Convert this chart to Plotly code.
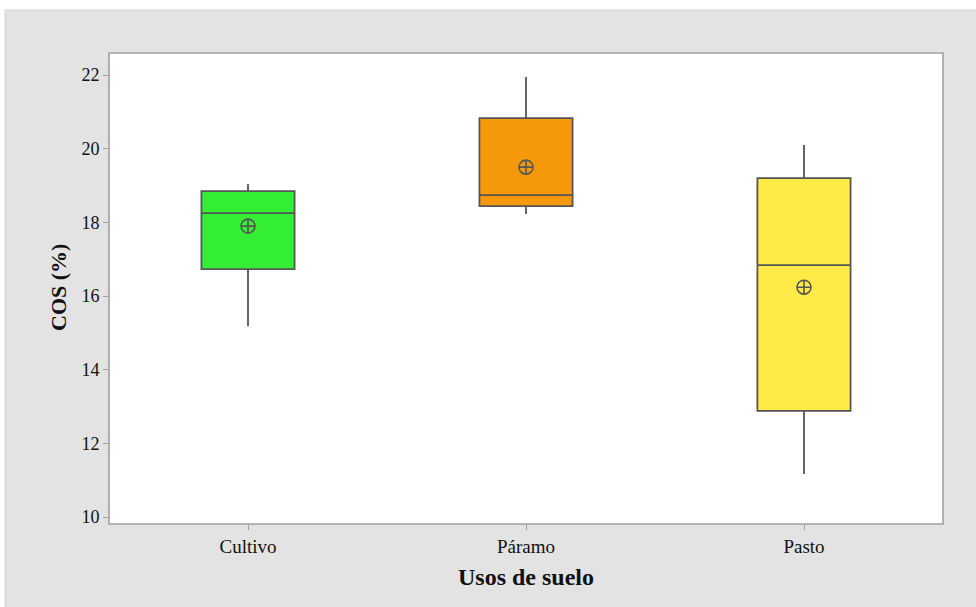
import plotly.graph_objects as go

# Soil organic carbon (COS, %) by land use
usos = ["Cultivo", "Páramo", "Pasto"]
lower_whisker = [15.18, 18.23, 11.17]
q1 = [16.73, 18.44, 12.88]
median = [18.25, 18.74, 16.84]
q3 = [18.85, 20.83, 19.20]
upper_whisker = [19.04, 21.95, 20.10]
mean = [17.90, 19.50, 16.24]
colores = ["#33EE33", "#F5980A", "#FFEA47"]

y_ticks = [10, 12, 14, 16, 18, 20, 22]

W, H = 976, 607
L, R, T, B = 109, 33, 53, 83
pw, ph = W - L - R, H - T - B


def px_x(x):
    return (x - L) / pw


def px_y(y):
    return (H - B - y) / ph


fig = go.Figure()

for u, lo, a, m, b, hi, c in zip(usos, lower_whisker, q1, median, q3, upper_whisker, colores):
    fig.add_trace(go.Box(
        x=[u], q1=[a], median=[m], q3=[b],
        lowerfence=[lo], upperfence=[hi],
        fillcolor=c, line=dict(color="#555555", width=1.8),
        width=0.335, whiskerwidth=0, boxpoints=False,
        showlegend=False, hoverinfo="skip",
    ))

fig.add_trace(go.Scatter(
    x=usos, y=mean, mode="markers",
    marker=dict(symbol="circle-cross-open", size=14, color="#555555",
                line=dict(width=1.6, color="#555555")),
    showlegend=False, hoverinfo="skip",
))

serif = "Liberation Serif, Times New Roman, serif"

fig.update_layout(
    width=W, height=H,
    margin=dict(l=L, r=R, t=T, b=B),
    paper_bgcolor="white",
    plot_bgcolor="white",
    font=dict(family=serif, size=19, color="#111111"),
    shapes=[
        # gray page frame
        dict(type="rect", xref="paper", yref="paper", layer="below",
             x0=px_x(5), x1=px_x(W + 2), y0=px_y(H + 2), y1=px_y(10),
             fillcolor="#E3E3E3", line=dict(color="#D2D2D2", width=1)),
        # white plotting area
        dict(type="rect", xref="paper", yref="paper", layer="below",
             x0=0, x1=1, y0=0, y1=1,
             fillcolor="white", line=dict(color="#A0A0A0", width=1.6)),
    ],
    xaxis=dict(
        type="category", range=[-0.5, 2.5],
        showgrid=False, zeroline=False, showline=False,
        ticks="outside", ticklen=5, tickwidth=1, tickcolor="#A0A0A0",
        tickfont=dict(family=serif, size=19, color="#111111"),
    ),
    yaxis=dict(
        range=[9.81, 22.6], tickvals=y_ticks,
        showgrid=False, zeroline=False, showline=False,
        ticks="outside", ticklen=5, tickwidth=1, tickcolor="#A0A0A0",
        tickfont=dict(family=serif, size=18, color="#111111"),
    ),
    annotations=[
        dict(text="<b>Usos de suelo</b>", xref="paper", yref="paper",
             x=px_x(526), y=px_y(577), showarrow=False,
             font=dict(family=serif, size=24, color="#111111"),
             xanchor="center", yanchor="middle"),
        dict(text="<b>COS (%)</b>", xref="paper", yref="paper",
             x=px_x(58), y=px_y(288), showarrow=False, textangle=-90,
             font=dict(family=serif, size=22, color="#111111"),
             xanchor="center", yanchor="middle"),
    ],
)

fig.write_html("out.html")
